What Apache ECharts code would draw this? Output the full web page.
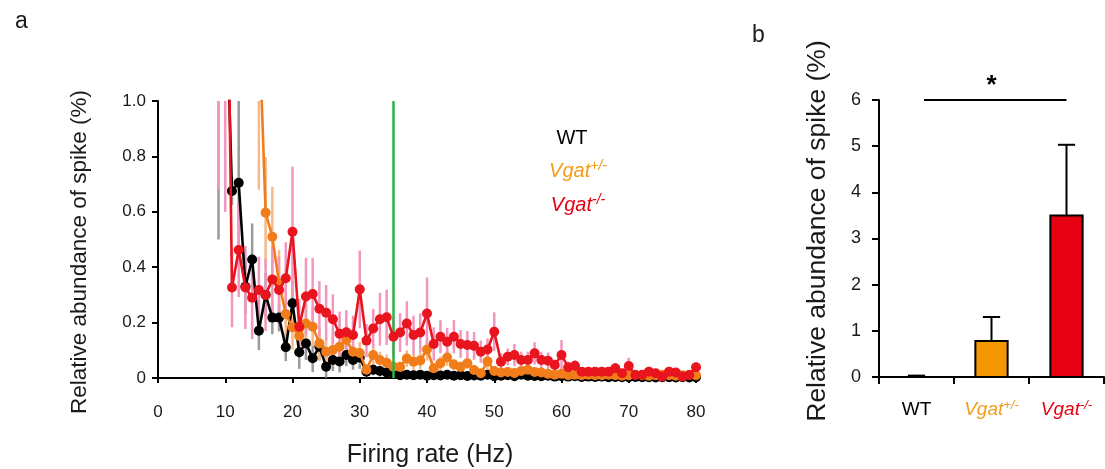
<!DOCTYPE html>
<html><head><meta charset="utf-8">
<script src="https://cdn.jsdelivr.net/npm/echarts@6/dist/echarts.min.js"></script>
<style>html,body{margin:0;padding:0;background:#fff}#c{width:1105px;height:469px}</style>
</head><body><div id="c"></div>
<script>
// ---------- Panel a data (firing-rate bins, Hz) ----------
const wtStart = 9;
const wtMean = [1.5,1.5,0.675,0.705,0.33,0.428,0.171,0.30,0.218,0.218,0.111,0.27,0.093,0.125,0.071,0.113,0.041,0.065,0.06,0.083,
  0.065,0.073,0.023,0.03,0.025,0.02,0.015,0.01,0.012,0.01,0.012,0.008,0.01,0.009,0.012,0.008,0.01,0.007,0.009,0.008,
  0.012,0.006,0.008,0.01,0.006,0.012,0.008,0.007,0.006,0.008,0.005,0.006,0.005,0.006,0.004,0.005,0.004,0.005,0.003,0.004,
  0.003,0.003,0.004,0.003,0.003,0.002,0.003,0.003,0.002,0.003,0.002,0.003];
const wtErr = [1.0,0.5,0.05,0.3,0.1,0.13,0.07,0.08,0.06,0.05,0.05,0.08,0.06,0.06,0.05,0.05,0.04,0.04,0.04,0.04,
  0.035,0.04,0.02,0.02,0.02,0.015,0.01,0.008,0.008,0.008,0.008,0.006,0.006,0.006,0.006,0.006,0.006,0.005,0.005,0.005,
  0.005,0.005,0.005,0.005,0.005,0.005,0.005,0.005,0.004,0.004,0.004,0.004,0.004,0.004,0.003,0.003,0.003,0.003,0.003,0.003,
  0.003,0.003,0.003,0.003,0.003,0.003,0.003,0.003,0.003,0.003,0.003,0.003];

const hetStart = 15;
const hetMean = [1.3,0.597,0.51,0.342,0.231,0.183,0.152,0.197,0.185,0.125,0.095,0.101,0.113,0.137,0.095,0.09,0.03,0.083,0.065,0.055,
  0.041,0.04,0.07,0.059,0.063,0.103,0.035,0.053,0.074,0.049,0.04,0.053,0.029,0.017,0.06,0.025,0.02,0.022,0.018,0.025,
  0.03,0.022,0.02,0.015,0.012,0.015,0.01,0.012,0.01,0.012,0.01,0.01,0.012,0.01,0.008,0.01,0.012,0.01,0.008,0.01,
  0.012,0.01,0.008,0.01,0.012,0.01];
const hetErr = [0.62,0.2,0.18,0.12,0.1,0.08,0.07,0.08,0.07,0.06,0.05,0.05,0.05,0.05,0.04,0.04,0.02,0.04,0.03,0.03,
  0.02,0.02,0.03,0.03,0.03,0.04,0.02,0.025,0.03,0.02,0.02,0.02,0.015,0.01,0.03,0.01,0.01,0.01,0.01,0.01,
  0.012,0.01,0.01,0.008,0.008,0.008,0.006,0.006,0.006,0.006,0.006,0.006,0.006,0.006,0.005,0.005,0.005,0.005,0.005,0.005,
  0.005,0.005,0.005,0.005,0.005,0.005];

const koStart = 9;
const koMean = [1.8,2.2,0.327,0.462,0.327,0.29,0.318,0.30,0.356,0.318,0.36,0.528,0.185,0.294,0.303,0.25,0.236,0.212,0.16,0.165,
  0.155,0.32,0.135,0.179,0.212,0.219,0.149,0.164,0.197,0.155,0.164,0.233,0.123,0.149,0.131,0.149,0.123,0.119,0.116,0.095,
  0.103,0.167,0.059,0.077,0.083,0.065,0.065,0.089,0.065,0.062,0.047,0.083,0.039,0.044,0.023,0.023,0.023,0.023,0.023,0.035,
  0.017,0.043,0.011,0.012,0.023,0.017,0.005,0.023,0.02,0.005,0.011,0.039];
const koErr = [1.12,1.6,0.144,0.17,0.15,0.15,0.12,0.13,0.12,0.12,0.13,0.235,0.1,0.14,0.13,0.1,0.1,0.09,0.08,0.08,
  0.07,0.14,0.06,0.07,0.095,0.1,0.07,0.07,0.08,0.07,0.07,0.13,0.06,0.06,0.05,0.06,0.05,0.05,0.05,0.04,
  0.04,0.07,0.03,0.03,0.04,0.03,0.03,0.04,0.03,0.03,0.02,0.054,0.02,0.02,0.01,0.01,0.01,0.01,0.01,0.02,
  0.01,0.03,0.008,0.008,0.01,0.01,0.005,0.01,0.01,0.005,0.008,0.015];

const stimFreq = 35;

// ---------- Panel b data ----------
const groups = ['WT', 'Vgat+/-', 'Vgat-/-'];
const groupMean = [0.02, 0.78, 3.5];
const groupSem = [0.01, 0.52, 1.53];
const sigBracket = [[0, 2, 6]];

// ---------- styles ----------
const FONT = '"Liberation Sans", Arial, sans-serif';
const TXT = '#1a1a1a';
const C_WT = '#000000', C_WT_E = '#9a9a9a';
const C_HET = '#f07d1a', C_HET_E = '#f8b986';
const C_KO = '#e8141e', C_KO_E = '#f296bd';
const C_HET_T = '#f39c1a', C_KO_T = '#e60012';
const barFill = ['#000000', '#f39800', '#e60012'];

function pts(start, arr) { return arr.map((v, i) => [start + i, v]); }
function errPts(start, m, e) { return m.map((v, i) => [start + i, v, e[i]]); }

function errRender(color) {
  return function (params, api) {
    const x = api.value(0), v = api.value(1), e = api.value(2);
    const lo = Math.max(0, v - e), hi = Math.min(1, v + e);
    if (lo >= hi) return null;
    const p1 = api.coord([x, lo]), p2 = api.coord([x, hi]);
    return { type: 'line', shape: { x1: p1[0], y1: p1[1], x2: p2[0], y2: p2[1] },
      style: { stroke: color, lineWidth: 2.5 } };
  };
}

function lineSeries(name, data, color, z) {
  return { type: 'line', name, xAxisIndex: 0, yAxisIndex: 0, data, clip: true, z,
    symbol: 'circle', symbolSize: 10, showAllSymbol: true, showSymbol: true,
    lineStyle: { color, width: 2.6 }, itemStyle: { color, borderWidth: 0 },
    emphasis: { disabled: true }, animation: false };
}

function makeRich(key, size, supSize) {
  return {
    wt: { fontFamily: FONT, fontSize: size, [key]: '#000', lineHeight: size + 3 },
    het: { fontFamily: FONT, fontSize: size, [key]: C_HET_T, fontStyle: 'italic', lineHeight: size + 3 },
    hetS: { fontFamily: FONT, fontSize: supSize, [key]: C_HET_T, fontStyle: 'italic', verticalAlign: 'top', lineHeight: supSize },
    ko: { fontFamily: FONT, fontSize: size, [key]: C_KO_T, fontStyle: 'italic', lineHeight: size + 3 },
    koS: { fontFamily: FONT, fontSize: supSize, [key]: C_KO_T, fontStyle: 'italic', verticalAlign: 'top', lineHeight: supSize }
  };
}
const richAxis = makeRich('color', 19, 13);
const richG = makeRich('fill', 20, 14);

function groupLabel(g) {
  if (g === 'WT') return '{wt|WT}';
  if (g === 'Vgat+/-') return '{het|Vgat}{hetS|+/-}';
  return '{ko|Vgat}{koS|-/-}';
}

const axisLineStyle = { color: '#000', width: 2 };

const option = {
  backgroundColor: '#fff',
  animation: false,
  grid: [
    { left: 158, right: 409, top: 101, bottom: 91, outerBoundsMode: 'none', containLabel: false },
    { left: 879, right: 1, top: 100, bottom: 92, outerBoundsMode: 'none', containLabel: false }
  ],
  xAxis: [
    { type: 'value', gridIndex: 0, min: 0, max: 80, interval: 10,
      axisLine: { show: true, lineStyle: axisLineStyle }, axisTick: { show: true, length: 5, lineStyle: axisLineStyle },
      axisLabel: { color: TXT, fontFamily: FONT, fontSize: 17, margin: 26 }, splitLine: { show: false } },
    { type: 'category', gridIndex: 1, data: groups, boundaryGap: true,
      axisLine: { show: true, lineStyle: axisLineStyle }, axisTick: { show: true, length: 7, lineStyle: axisLineStyle },
      axisLabel: { formatter: groupLabel, rich: richAxis, margin: 22, interval: 0 }, splitLine: { show: false } }
  ],
  yAxis: [
    { type: 'value', gridIndex: 0, min: 0, max: 1, interval: 0.2,
      axisLine: { show: true, lineStyle: axisLineStyle }, axisTick: { show: true, length: 6, lineStyle: axisLineStyle },
      axisLabel: { color: TXT, fontFamily: FONT, fontSize: 17, margin: 12,
        formatter: v => (v === 0 ? '0' : v.toFixed(1)) }, splitLine: { show: false } },
    { type: 'value', gridIndex: 1, min: 0, max: 6, interval: 1,
      axisLine: { show: true, lineStyle: axisLineStyle }, axisTick: { show: true, length: 7, lineStyle: axisLineStyle },
      axisLabel: { color: TXT, fontFamily: FONT, fontSize: 18, margin: 18 }, splitLine: { show: false } }
  ],
  series: [
    { type: 'custom', name: 'wtErr', xAxisIndex: 0, yAxisIndex: 0, z: 1, clip: true,
      data: errPts(wtStart, wtMean, wtErr), renderItem: errRender(C_WT_E), encode: { x: 0, y: 1 } },
    { type: 'custom', name: 'hetErr', xAxisIndex: 0, yAxisIndex: 0, z: 1, clip: true,
      data: errPts(hetStart, hetMean, hetErr), renderItem: errRender(C_HET_E), encode: { x: 0, y: 1 } },
    { type: 'custom', name: 'koErr', xAxisIndex: 0, yAxisIndex: 0, z: 1, clip: true,
      data: errPts(koStart, koMean, koErr), renderItem: errRender(C_KO_E), encode: { x: 0, y: 1 } },
    lineSeries('WT', pts(wtStart, wtMean), C_WT, 3),
    lineSeries('Vgat+/-', pts(hetStart, hetMean), C_HET, 4),
    Object.assign(lineSeries('Vgat-/-', pts(koStart, koMean), C_KO, 5), {
      markLine: { silent: true, symbol: ['none', 'none'], label: { show: false },
        lineStyle: { color: '#2db34a', width: 2.5, type: 'solid' },
        data: [[{ coord: [stimFreq, 0] }, { coord: [stimFreq, 1] }]] }
    }),
    // panel b bars + error bars
    { type: 'custom', name: 'bars', xAxisIndex: 1, yAxisIndex: 1, z: 2,
      data: groupMean.map((v, i) => [i, v, groupSem[i]]), encode: { x: 0, y: 1 },
      renderItem: function (params, api) {
        const i = api.value(0), v = api.value(1), e = api.value(2);
        const band = api.size([1, 0])[0];
        const w = band * (i === 0 ? 0.15 : 0.43);
        const p0 = api.coord([i, 0]), p1 = api.coord([i, v]), pe = api.coord([i, v + e]);
        const capW = band * 0.23;
        return { type: 'group', children: [
          { type: 'line', shape: { x1: p1[0], y1: p1[1], x2: pe[0], y2: pe[1] }, style: { stroke: '#000', lineWidth: 2 } },
          { type: 'line', shape: { x1: pe[0] - capW / 2, y1: pe[1], x2: pe[0] + capW / 2, y2: pe[1] }, style: { stroke: '#000', lineWidth: 2 } },
          { type: 'rect', shape: { x: p0[0] - w / 2, y: p1[1], width: w, height: Math.max(0, p0[1] - p1[1]) },
            style: { fill: barFill[i], stroke: '#000', lineWidth: 2 } }
        ] };
      } },
    { type: 'custom', name: 'sig', xAxisIndex: 1, yAxisIndex: 1, z: 3,
      data: sigBracket, encode: { x: [0, 1], y: 2 },
      renderItem: function (params, api) {
        const band = api.size([1, 0])[0];
        const a = api.coord([api.value(0), api.value(2)]);
        const b = api.coord([api.value(1), api.value(2)]);
        const x1 = a[0] + band * 0.1, x2 = b[0];
        return { type: 'group', children: [
          { type: 'line', shape: { x1, y1: a[1], x2, y2: b[1] }, style: { stroke: '#000', lineWidth: 2 } },
          { type: 'text', x: (a[0] + b[0]) / 2, y: a[1] - 1,
            style: { text: '*', fontFamily: FONT, fontSize: 26, fontWeight: 'bold', fill: '#000', textAlign: 'center', textVerticalAlign: 'bottom' } }
        ] };
      } }
  ],
  graphic: [
    { type: 'text', x: 15, y: 22, style: { text: 'a', fontFamily: FONT, fontSize: 23, fill: TXT, textVerticalAlign: 'middle' } },
    { type: 'text', x: 752, y: 36, style: { text: 'b', fontFamily: FONT, fontSize: 23, fill: TXT, textVerticalAlign: 'middle' } },
    { type: 'text', x: 80, y: 252, rotation: Math.PI / 2,
      style: { text: 'Relative abundance of spike (%)', fontFamily: FONT, fontSize: 22.5, fill: TXT, textAlign: 'center', textVerticalAlign: 'middle' } },
    { type: 'text', x: 430, y: 455,
      style: { text: 'Firing rate (Hz)', fontFamily: FONT, fontSize: 25, fill: TXT, textAlign: 'center', textVerticalAlign: 'middle' } },
    { type: 'text', x: 818, y: 231, rotation: Math.PI / 2,
      style: { text: 'Relative abundance of spike (%)', fontFamily: FONT, fontSize: 26.5, fill: TXT, textAlign: 'center', textVerticalAlign: 'middle' } },
    { type: 'text', x: 572, y: 138,
      style: { text: '{wt|WT}', rich: richG, textAlign: 'center', textVerticalAlign: 'middle' } },
    { type: 'text', x: 578, y: 171,
      style: { text: '{het|Vgat}{hetS|+/-}', rich: richG, textAlign: 'center', textVerticalAlign: 'middle' } },
    { type: 'text', x: 578, y: 205,
      style: { text: '{ko|Vgat}{koS|-/-}', rich: richG, textAlign: 'center', textVerticalAlign: 'middle' } }
  ]
};

const chart = echarts.init(document.getElementById('c'), null, { renderer: 'canvas' });
chart.setOption(option);
</script>
</body></html>
